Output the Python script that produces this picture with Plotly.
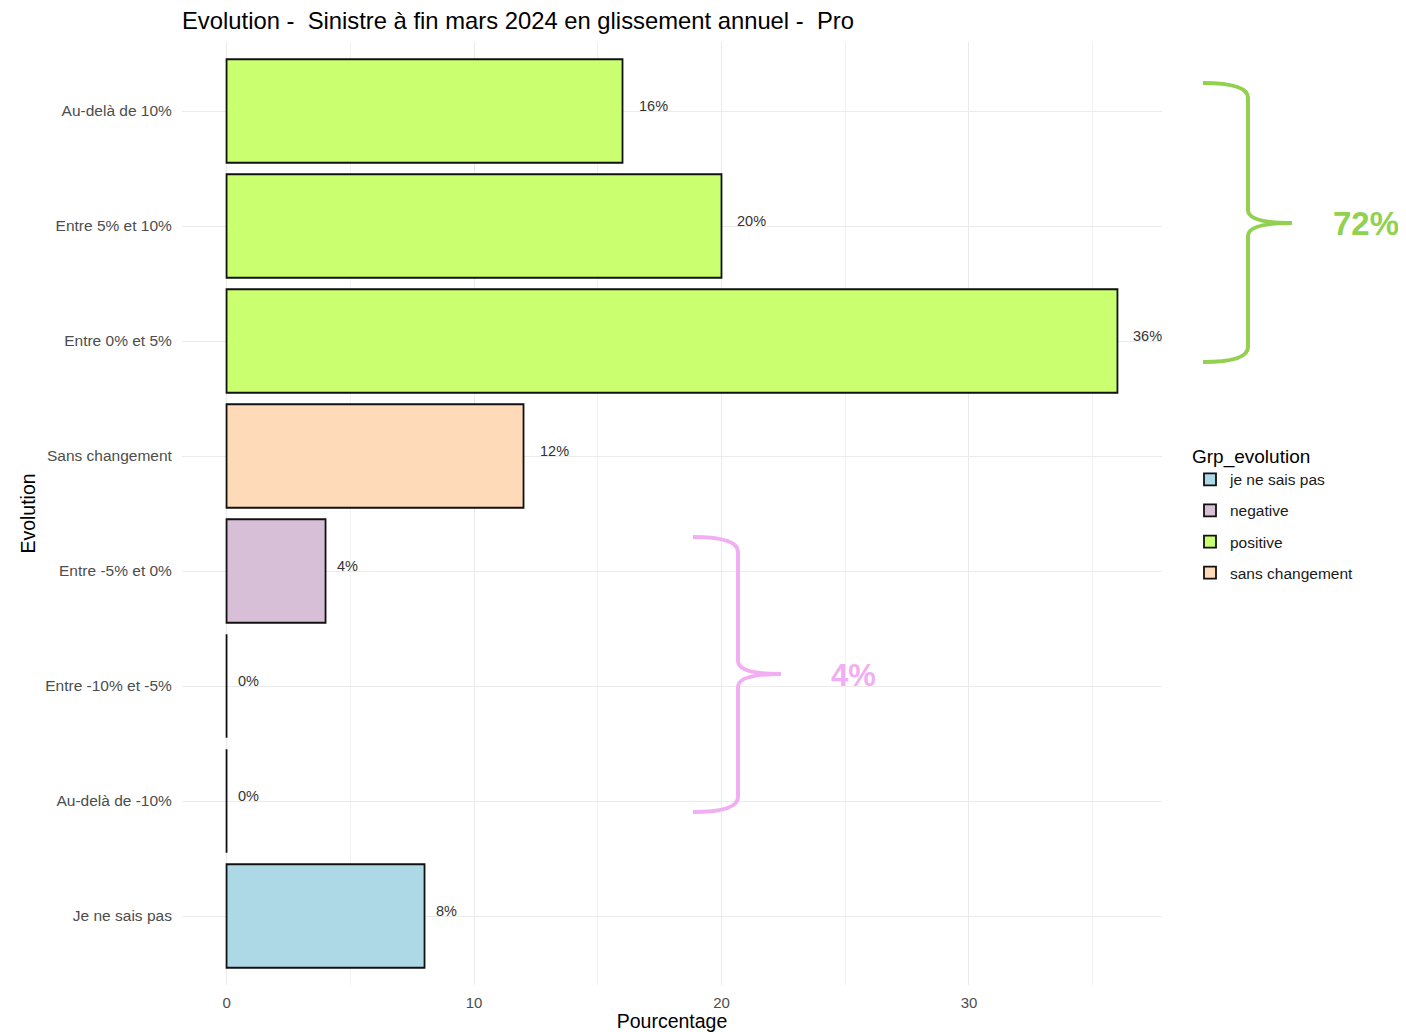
import plotly.graph_objects as go

# ---- data ----
categories = ["Au-delà de 10%", "Entre 5% et 10%", "Entre 0% et 5%", "Sans changement",
              "Entre -5% et 0%", "Entre -10% et -5%", "Au-delà de -10%", "Je ne sais pas"]
values = [16, 20, 36, 12, 4, 0, 0, 8]
groups = ["positive", "positive", "positive", "sans changement",
          "negative", "negative", "negative", "je ne sais pas"]
group_order = ["je ne sais pas", "negative", "positive", "sans changement"]
group_colors = {"je ne sais pas": "#ADD8E6", "negative": "#D8BFD8",
                "positive": "#CAFF70", "sans changement": "#FFDAB9"}
x_ticks = [0, 10, 20, 30]
brace_totals = {"positive": "72%", "negative": "4%"}

FONT = "Liberation Sans, Arial, sans-serif"
OFF = 8  # page body margin
W, H = 1406 - OFF, 1032 - OFF
L, T = 182 - OFF, 42 - OFF
PW, PH = 1162 - 182, 985 - 42
R, B = W - L - PW, H - T - PH

fig = go.Figure()
for g in group_order:
    ys = [c for c, gg in zip(categories, groups) if gg == g]
    xs = [v for v, gg in zip(values, groups) if gg == g]
    fig.add_trace(go.Bar(
        x=xs, y=ys, orientation="h", name=g, width=0.9,
        marker=dict(color=group_colors[g], line=dict(color="#111111", width=1.8)),
        legendgroup=g, hoverinfo="x+y",
    ))

# zero-valued bars still show their outline at 0
zero_cats = [c for c, v in zip(categories, values) if v == 0]
for c in zero_cats:
    v = values[categories.index(c)]
    fig.add_trace(go.Scatter(
        x=[v, v], y=[c, c], mode="lines", showlegend=False, hoverinfo="skip",
        line=dict(color="#111111", width=1.8),
    ))

# value labels
for c, v in zip(categories, values):
    lab = f"{v}%"
    fig.add_annotation(x=v, y=c, text=lab, showarrow=False, xanchor="left", yanchor="middle",
                       xshift=5 * len(lab) - 1, yshift=5,
                       font=dict(family=FONT, size=14.5, color="#333333"))


def px2paper(X, Y):
    # screen-pixel position -> paper coordinates
    return (X - 182) / PW, (985 - Y) / PH


def brace_path(a, s, tip, top, mid, bot):
    pts = [(a, top), (s, top), (s, top + 15), (s, mid - 13), (s, mid), (tip, mid),
           (s, mid), (s, mid + 13), (s, bot - 15), (s, bot), (a, bot)]
    p = [px2paper(*q) for q in pts]
    f = lambda q: f"{q[0]:.5f},{q[1]:.5f}"
    return (f"M{f(p[0])} Q{f(p[1])} {f(p[2])} L{f(p[3])} Q{f(p[4])} {f(p[5])} "
            f"Q{f(p[6])} {f(p[7])} L{f(p[8])} Q{f(p[9])} {f(p[10])}")


green, pink = "#92D050", "#F2AEF2"
fig.add_shape(type="path", xref="paper", yref="paper",
              path=brace_path(1203, 1248, 1292, 83, 223, 362),
              line=dict(color=green, width=4))
fig.add_shape(type="path", xref="paper", yref="paper",
              path=brace_path(693, 738, 781, 537, 674, 812),
              line=dict(color=pink, width=4))
gx, gy = px2paper(1366, 223)
fig.add_annotation(x=gx, y=gy, xref="paper", yref="paper", xanchor="center", yanchor="middle",
                   text="<b>" + brace_totals["positive"] + "</b>",
                   showarrow=False, font=dict(family=FONT, size=33, color=green))
px_, py_ = px2paper(853, 675)
fig.add_annotation(x=px_, y=py_, xref="paper", yref="paper", xanchor="center", yanchor="middle",
                   text="<b>" + brace_totals["negative"] + "</b>",
                   showarrow=False, font=dict(family=FONT, size=31, color=pink))

fig.update_layout(
    width=W, height=H,
    margin=dict(l=L, r=R, t=T, b=B, autoexpand=False),
    paper_bgcolor="white", plot_bgcolor="white",
    barmode="overlay",
    title=dict(text="Evolution -  Sinistre à fin mars 2024 en glissement annuel -  Pro",
               x=0, xref="paper", xanchor="left", y=1 - (20.5 - OFF) / H, yref="container", yanchor="middle",
               font=dict(family=FONT, size=23.8, color="#000000")),
    font=dict(family=FONT),
    legend=dict(title=dict(text="Grp_evolution", font=dict(family=FONT, size=19, color="#000000")),
                x=(1190 - 182) / PW, xanchor="left", y=(985 - 514) / PH, yanchor="middle",
                font=dict(family=FONT, size=15.5, color="#1a1a1a"),
                traceorder="grouped", tracegroupgap=8, bgcolor="rgba(0,0,0,0)"),
    showlegend=True,
)
fig.update_xaxes(range=[-1.8, 37.8], tickvals=x_ticks, showgrid=True, gridcolor="#EBEBEB", gridwidth=1.2,
                 minor=dict(dtick=5, showgrid=True, gridcolor="#F2F2F2", gridwidth=0.8),
                 zeroline=False, showline=False, ticks="outside", ticklen=4, tickcolor="rgba(0,0,0,0)",
                 tickfont=dict(family=FONT, size=15, color="#4D4D4D"),
                 title=dict(text="Pourcentage", font=dict(family=FONT, size=19.5, color="#000000"), standoff=2))
fig.update_yaxes(categoryorder="array", categoryarray=categories[::-1], range=[-0.6, 7.6],
                 showgrid=True, gridcolor="#EBEBEB", gridwidth=1.2, zeroline=False, showline=False,
                 ticks="outside", ticklen=6, tickcolor="rgba(0,0,0,0)",
                 tickfont=dict(family=FONT, size=15.5, color="#4D4D4D"),
                 title=dict(text="Evolution", font=dict(family=FONT, size=19.5, color="#000000"), standoff=4))

fig.write_html("out.html")
